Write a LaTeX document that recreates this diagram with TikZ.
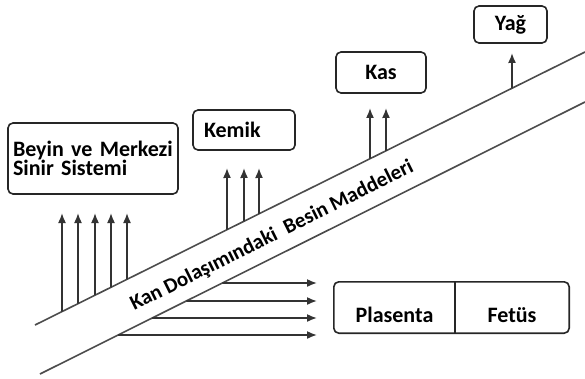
\documentclass[tikz,border=0pt]{standalone}
\usepackage{fontspec}
\setmainfont{Carlito}
\usetikzlibrary{arrows.meta}

\begin{document}
\begin{tikzpicture}[x=1pt,y=-1pt,
    every node/.style={font=\bfseries\fontsize{22}{19}\selectfont,inner sep=0pt},
    box/.style={draw=black!85,line width=1.6pt,rounded corners=5pt},
    band/.style={draw=black!70,line width=1.6pt},
    feed/.style={draw=black!80,line width=1.6pt,-{Latex[length=10pt,width=8pt]}}]
  \useasboundingbox (0,0) rectangle (585,379);

  %blood band
  \coordinate (u1) at (35,325);
  \coordinate (u2) at (585,52);
  \coordinate (l1) at (40,374);
  \coordinate (l2) at (585,102);
  \draw[band] (u1) -- (u2);
  \draw[band] (l1) -- (l2);
  \node[rotate=26.5,font=\bfseries\fontsize{21}{21}\selectfont] (kan) at (272,236) {Kan Dolaşımındaki\ \ Besin Maddeleri};

  %boxes
  \node[box,minimum width=170pt,minimum height=71pt,text width=160pt,align=left] (beyin) at (93,158.5) {Beyin ve Merkezi\\Sinir Sistemi};
  \node[box,minimum width=102pt,minimum height=40pt,text width=80pt,align=left] (kemik) at (244,130) {Kemik};
  \node[box,minimum width=90pt,minimum height=41pt] (kas) at (381,72.5) {Kas};
  \node[box,minimum width=73pt,minimum height=37pt] (yag) at (510.5,24.5) {Yağ};
  \node[minimum width=121pt,minimum height=51pt,text height=30pt,text depth=1pt] (plasenta) at (394.5,307.5) {Plasenta};
  \node[minimum width=114pt,minimum height=51pt,text height=30pt,text depth=1pt] (fetus) at (512,307.5) {Fetüs};
  \draw[box] (plasenta.north west) rectangle (fetus.south east);
  \draw[box] (plasenta.north east) -- (plasenta.south east);

  %arrows up to the tissues
  \foreach \x in {62,78,95,111,127}
    \draw[feed] (intersection of u1--u2 and \x,0--\x,400) -- (\x,213);
  \foreach \x in {227,244,259}
    \draw[feed] (intersection of u1--u2 and \x,0--\x,400) -- (\x,168);
  \foreach \x in {370,386}
    \draw[feed] (intersection of u1--u2 and \x,0--\x,400) -- (\x,108);
  \draw[feed] (intersection of u1--u2 and 512,0--512,400) -- (512,53);

  %arrows across to the placenta
  \foreach \y in {283,301,318,335}
    \draw[feed] (intersection of l1--l2 and 0,\y--600,\y) -- (317,\y);
\end{tikzpicture}
\end{document}
